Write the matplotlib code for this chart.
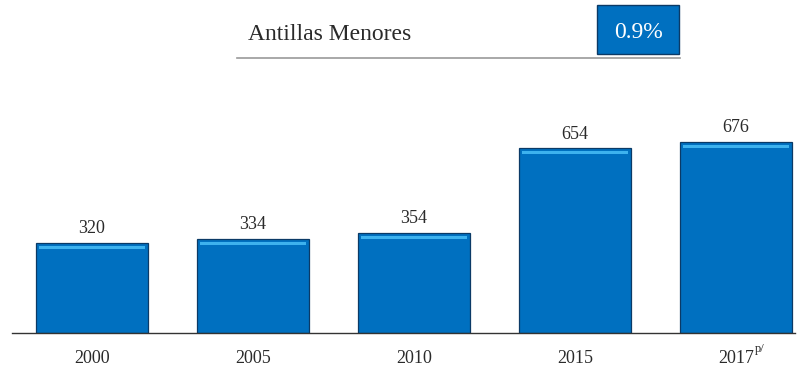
import matplotlib.pyplot as plt
from matplotlib.patches import Rectangle
from matplotlib.lines import Line2D

years = ["2000", "2005", "2010", "2015", "2017"]
values = [320, 334, 354, 654, 676]
title = "Antillas Menores"
share = "0.9%"

plt.rcParams['font.family'] = ['Liberation Serif', 'DejaVu Serif']

fig = plt.figure(figsize=(8.05, 3.68), dpi=100)
W, H = 805.0, 368.0

# main axes: baseline at y=333px, spans x 12..795
ax = fig.add_axes([12 / W, 35 / H, 783 / W, 233 / H])
x = list(range(len(values)))
ax.bar(x, values, width=0.7, color="#0070C0", edgecolor="#0B3A66", linewidth=0.9, zorder=2)
# bevel highlight along the top of each bar
hl = [v - 22 for v in values]
ax.bar(x, [11] * len(values), bottom=hl, width=0.66, color="#3DB2EE", linewidth=0, zorder=3)

for xi, v in zip(x, values):
    ax.annotate(str(v), (xi, v), xytext=(0, 4), textcoords="offset points",
                ha="center", va="bottom", fontsize=13, color="#2a2a2a")

ax.set_xlim(-0.497, 4.366)
ax.set_ylim(0, 233 / 0.2825)
ax.set_xticks(x)
ax.set_xticklabels(years, fontsize=13, color="#2a2a2a")
ax.tick_params(axis="x", length=0, pad=12)
ax.set_yticks([])
for s in ["top", "right", "left"]:
    ax.spines[s].set_visible(False)
ax.spines["bottom"].set_color("#333333")
ax.spines["bottom"].set_linewidth(1.0)
ax.annotate("p/", (4, 0), xytext=(13.5, -11.5), textcoords="offset points",
            ha="left", va="center", fontsize=9, color="#2a2a2a",
            annotation_clip=False)

# header
fig.text(248 / W, 1 - 35 / H, title, fontsize=17, va="center", ha="left", color="#2a2a2a")
fig.add_artist(Line2D([237 / W, 680 / W], [1 - 58 / H, 1 - 58 / H], color="#999999", lw=1.2))
fig.add_artist(Rectangle((597 / W, 1 - 54 / H), 82 / W, 49 / H, transform=fig.transFigure,
                         facecolor="#0070C0", edgecolor="#0B3A66", lw=1.0))
fig.text(638 / W, 1 - 32 / H, share, fontsize=17, va="center", ha="center", color="white")

fig.savefig("out.png", dpi=100)
